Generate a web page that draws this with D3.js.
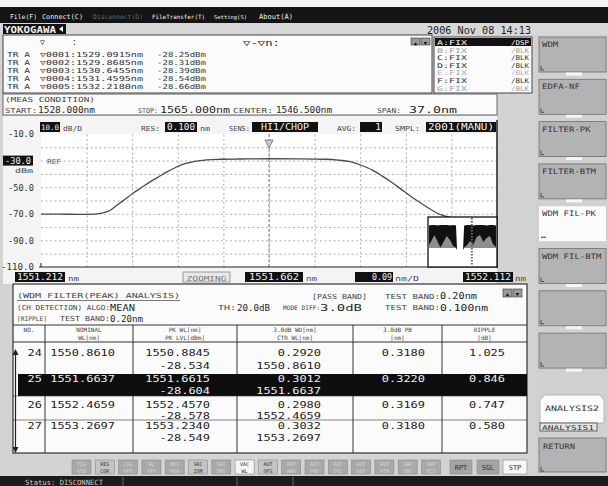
<!DOCTYPE html>
<html><head><meta charset="utf-8">
<script src="https://cdn.jsdelivr.net/npm/d3@7/dist/d3.min.js"></script>
<style>
html,body{margin:0;padding:0;background:#d3d3d3;}
svg{display:block;}
text{font-family:"DejaVu Sans Mono",monospace;}
</style></head><body>
<svg id="c" width="608" height="486"></svg>
<script>
// ---------------- DATA ----------------
const menuItems = ["File(F)","Connect(C)","Disconnect(D)","FileTransfer(T)","Setting(S)","About(A)"];
const dateText = "2006 Nov 08 14:13";
const markerNames = ["▽0001","▽0002","▽0003","▽0004","▽0005"];
const markerWl = ["1529.0915","1529.8685","1530.6455","1531.4595","1532.2180"];
const markerLvl = ["-28.25","-28.31","-28.39","-28.54","-28.66"];
const traceList = ["A:FIX","B:FIX","C:FIX","D:FIX","E:FIX","F:FIX","G:FIX"];
const traceMode = ["/DSP","/BLK","/BLK","/BLK","/BLK","/BLK","/BLK"];
const measStart = 1528.000, measStop = 1565.000, measCenter = 1546.500, measSpan = 37.0;
const settings = {scale:"10.0", res:"0.100", sens:"HI1/CHOP", avg:"1", smpl:"2001(MANU)"};
const yTickLabels = [-10,-50,-70,-90,-110];
const refLevel = -30.0;
const xDomain = [1551.212, 1552.112];
const xDiv = 0.09;
// main trace (wavelength nm, level dBm)
const traceWl = [1551.2120,1551.2495,1551.2890,1551.3186,1551.3344,1551.3482,1551.3620,1551.3778,1551.3936,1551.4113,
  1551.4271,1551.4449,1551.4607,1551.4784,1551.4962,1551.5159,1551.5396,1551.5653,1551.6048,1551.6620,
  1551.7232,1551.7725,1551.7982,1551.8219,1551.8436,1551.8653,1551.8850,1551.9048,1551.9245,1551.9442,
  1551.9600,1551.9758,1551.9916,1552.0034,1552.0192];
const traceDbm = [-70.2,-70.3,-70.4,-70.2,-69.3,-67.5,-63.5,-59.0,-54.5,-50.0,
  -46.0,-42.0,-38.5,-35.0,-32.3,-30.5,-29.4,-29.0,-28.8,-28.6,
  -28.7,-29.0,-29.6,-30.8,-33.5,-37.0,-41.5,-46.5,-52.0,-57.5,
  -61.5,-65.5,-69.0,-71.0,-72.5];
const peakWl = 1551.662;
// overview inset (full span)
const insetWl = [1528.0,1529.6,1531.0,1532.6,1534.3,1536.0,1537.8,1539.6,1541.3,1542.9,1543.5,1546.8,1547.4,1549.0,1550.7,1552.4,1554.3,1556.2,1558.0,1559.8,1561.6,1563.3,1565.0];
const insetTop = [-27,-26,-26,-27,-26,-26,-26,-27,-26,-27,-76,-76,-27,-26,-26,-27,-26,-26,-26,-27,-26,-26,-27];
const insetGray = [-66,-56,-46,-58,-71,-60,-48,-56,-68,-71,-76,-76,-71,-66,-58,-66,-50,-46,-60,-52,-48,-64,-70];
const insetFloor = [-72,-72,-72,-72,-72,-72,-72,-72,-72,-72,-76,-76,-72,-72,-72,-72,-72,-72,-72,-72,-72,-72,-72];
// analysis table
const chNo = [24,25,26,27];
const nominalWl = ["1550.8610","1551.6637","1552.4659","1553.2697"];
const pkWl = ["1550.8845","1551.6615","1552.4570","1553.2340"];
const pkLvl = ["-28.534","-28.604","-28.578","-28.549"];
const wd3 = ["0.2920","0.3012","0.2980","0.3032"];
const ctrWl = ["1550.8610","1551.6637","1552.4659","1553.2697"];
const pb3 = ["0.3180","0.3220","0.3169","0.3180"];
const ripple = ["1.025","0.846","0.747","0.580"];
const selectedRow = 1;
const softKeys = ["WDM","EDFA-NF","FILTER-PK","FILTER-BTM","WDM FIL-PK","WDM FIL-BTM","",""];
const btnLabels = [["TLS","STD"],["RES","COR"],["LVL","OFS"],["WL","OFS"],["NOT","MON"],["SRC","ZOM"],["SRC","ERS"],["VAC","WL"],["AUT","OFS"],["AUT","ANA"],["AUT","PAD"],["AUT","COL"],["AUT","REF"],["AUT","ATN"],["SWP","INT"],["SWP","ECS"]];
const btnState = [0,1,0,0,0,1,0,2,1,0,0,0,0,0,0,0];
const sweepBtns = ["RPT","SGL","STP"];

// ---------------- DRAW ----------------
const svg = d3.select("#c");
const INK="#252525", WHITE="#fbfbfb", KEY="#b3b3b3";
function txt(g,s,x,y,o={}){
  const fs=o.fs||9;
  const e=g.append("text").attr("x",x).attr("y",y).text(s)
    .attr("font-size",fs).attr("fill",o.fill||INK);
  if(o.anchor) e.attr("text-anchor",o.anchor);
  if(o.ff) e.attr("font-family",o.ff);
  if(o.fw) e.attr("font-weight",o.fw);
  if(o.w){
    const L=e.node().getComputedTextLength();
    if(L>o.w) e.attr("font-size",fs*o.w/L);
    e.attr("textLength",o.w).attr("lengthAdjust","spacingAndGlyphs");
  }
  return e;
}
function box(g,x,y,w,h,fill,stroke,sw){
  return g.append("rect").attr("x",x).attr("y",y).attr("width",w).attr("height",h)
    .attr("fill",fill||"none").attr("stroke",stroke||"none").attr("stroke-width",sw||1);
}
function blackVal(g,s,x,y,w,h,o={}){
  box(g,x,y,w,h,"#111");
  txt(g,s,o.right?x+w-1:x+w/2,y+h-2,{fs:o.fs||9.5,fill:"#f2f2f2",anchor:o.right?"end":"middle",w:o.tw});
}

// background
box(svg,0,0,608,486,"#d3d3d3");
box(svg,0,0,608,7,"#f3f3f3");
box(svg,0,7,608,16,"#141414");
const menuX=[10,42,93,152,214,259], menuW=[27,41,50,53,33,34];
menuItems.forEach((m,i)=>txt(svg,m,menuX[i],18.5,{fs:9,ff:"DejaVu Sans",fill:i===2?"#6a6a6a":"#f0f0f0",w:menuW[i]}));
box(svg,0,23,608,12,"#d7d7d7");
// YOKOGAWA logo
box(svg,3,24,63,10,"#111");
txt(svg,"YOKOGAWA",4,32.5,{fs:9,ff:"DejaVu Sans",fw:"bold",fill:"#f5f5f5",w:52});
svg.append("path").attr("d","M59,29 L63,26 L63,32 Z").attr("fill","#f5f5f5");
txt(svg,dateText,427,33.5,{fs:10.5,w:104});

// marker box
box(svg,3,35,429,58,WHITE,"#444");
txt(svg,"▽",40,45,{fs:8});
txt(svg,":",72,45,{fs:8});
txt(svg,"▽-▽n:",243,45.5,{fs:8.5,w:37});
box(svg,411,38,9,7,"#9a9a9a","#333",0.6); box(svg,421,38,9,7,"#9a9a9a","#333",0.6);
txt(svg,"▲",415.5,44.5,{fs:5.5,anchor:"middle",fill:"#111"});
txt(svg,"▼",425.5,44.5,{fs:5.5,anchor:"middle",fill:"#111"});
markerNames.forEach((n,i)=>{
  const yy=56.5+i*8.2;
  txt(svg,"TR A",7,yy,{fs:7,w:23,fill:"#333"});
  txt(svg,n+":",40,yy,{fs:7,w:36,fill:"#333"});
  txt(svg,markerWl[i]+"nm",76,yy,{fs:7,w:67,fill:"#333"});
  txt(svg,markerLvl[i]+"dBm",157,yy,{fs:7,w:49,fill:"#333"});
});
// trace list box
box(svg,434,37,98,56,WHITE,"#444");
const trFill=["#fff","#9c9c9c","#333","#333","#b0b0b0","#333","#a0a0a0"];
traceList.forEach((t,i)=>{
  const yy=45+i*7.6;
  if(i===0) box(svg,435,38,96,8,"#111");
  txt(svg,t,437,yy,{fs:6.5,w:30,fill:trFill[i]});
  txt(svg,traceMode[i],529,yy,{fs:6.5,anchor:"end",w:18,fill:trFill[i]});
});

// meas condition
box(svg,3,94,494,21,WHITE,"#666");
txt(svg,"(MEAS CONDITION)",5,102,{fs:7,w:90,fill:"#444"});
txt(svg,"START:",5,113,{fs:7,w:32,fill:"#444"});
txt(svg,measStart.toFixed(3)+"nm",38,113,{fs:9.5,w:57});
txt(svg,"STOP:",138,113,{fs:7,w:20,fill:"#444"});
txt(svg,measStop.toFixed(3)+"nm",160,113,{fs:9.5,w:70});
txt(svg,"CENTER:",233,113,{fs:7,w:40,fill:"#444"});
txt(svg,measCenter.toFixed(3)+"nm",276,113,{fs:9.5,w:56});
txt(svg,"SPAN:",377,113,{fs:7,w:24,fill:"#444"});
txt(svg,measSpan.toFixed(1)+"nm",409,113,{fs:9.5,w:48});

// plot panel
box(svg,3,116,494,168,"#f4f4f4");
const x=d3.scaleLinear().domain(xDomain).range([41,497]);
const y=d3.scaleLinear().domain([-110,-10]).range([267,134]);
box(svg,41,134,456,133,"#ffffff");
// header row
blackVal(svg,settings.scale,40,122,20,10,{tw:18});
txt(svg,"dB/D",63,131,{fs:7,w:19,fill:"#444"});
txt(svg,"RES:",141,131,{fs:7,w:19,fill:"#444"});
blackVal(svg,settings.res,165,122,32,10,{tw:28});
txt(svg,"nm",200,131,{fs:7,w:10,fill:"#444"});
txt(svg,"SENS:",229,131,{fs:7,w:21,fill:"#444"});
blackVal(svg,settings.sens,252,122,66,10,{tw:48});
txt(svg,"AVG:",337,131,{fs:7,w:19,fill:"#444"});
blackVal(svg,settings.avg,360,122,22,10,{right:true});
txt(svg,"SMPL:",395,131,{fs:7,w:25,fill:"#444"});
blackVal(svg,settings.smpl,426,122,70,10,{tw:66});

// grid
const vTicks=d3.range(1,10).map(i=>xDomain[0]+i*xDiv);
const gx=svg.append("g").attr("transform","translate(0,267)")
  .call(d3.axisBottom(x).tickValues(vTicks).tickSize(-133).tickFormat(""));
gx.select(".domain").remove();
gx.selectAll("line").attr("stroke","#9a9a9a").attr("stroke-dasharray","2,2.5").attr("stroke-width",0.8);
const hTicks=d3.range(-100,-10,10);
const gy=svg.append("g").attr("transform","translate(41,0)")
  .call(d3.axisLeft(y).tickValues(hTicks).tickSize(-456).tickFormat(""));
gy.select(".domain").remove();
gy.selectAll("line").attr("stroke","#9a9a9a").attr("stroke-dasharray","2,2.5").attr("stroke-width",0.8);
// center line
svg.append("line").attr("x1",x(peakWl)).attr("x2",x(peakWl)).attr("y1",134).attr("y2",267)
  .attr("stroke","#777").attr("stroke-dasharray","3,2").attr("stroke-width",0.9);
// y labels
const yl=svg.append("g").attr("transform","translate(34,0)")
  .call(d3.axisLeft(y).tickValues(yTickLabels).tickSize(0).tickPadding(0).tickFormat(d=>d.toFixed(1)));
yl.select(".domain").remove();
yl.selectAll("text").attr("font-family","DejaVu Sans Mono").attr("font-size",9).attr("fill","#333")
  .attr("textLength",d=>d<=-100?33:26).attr("lengthAdjust","spacingAndGlyphs");
// REF
blackVal(svg,refLevel.toFixed(1),3,y(refLevel)-5,30,10,{tw:26});
txt(svg,"dBm",15,y(refLevel)+12,{fs:6.5,w:18,fill:"#444"});
txt(svg,"REF",47,y(refLevel)+3,{fs:7,w:14,fill:"#555"});
// axes frame
svg.append("line").attr("x1",39).attr("x2",497).attr("y1",267).attr("y2",267).attr("stroke","#222").attr("stroke-width",1.2);
svg.append("line").attr("x1",497).attr("x2",497).attr("y1",120).attr("y2",268).attr("stroke","#222").attr("stroke-width",1.5);
svg.append("line").attr("x1",41).attr("x2",41).attr("y1",263).attr("y2",267).attr("stroke","#222");
// trace
const line=d3.line().x(d=>x(d[0])).y(d=>y(d[1])).curve(d3.curveMonotoneX);
svg.append("path").datum(traceWl.map((w,i)=>[w,traceDbm[i]]))
  .attr("d",line).attr("fill","none").attr("stroke","#4a4a4a").attr("stroke-width",1.3);
// peak marker
const px=x(peakWl);
svg.append("path").attr("d",`M${px-4},${140} L${px+4},${140} L${px},${148} Z`).attr("fill","#ccc").attr("stroke","#666").attr("stroke-width",0.8);

// inset overview
const xi=d3.scaleLinear().domain([measStart,measStop]).range([429,496]);
const yi=d3.scaleLinear().domain([-110,-10]).range([267,217]);
box(svg,428,217,69,50,"#ffffff","#111",1.3);
const ins=insetWl.map((w,i)=>({w,t:insetTop[i],g:insetGray[i],f:insetFloor[i]}));
svg.append("path").datum(ins).attr("d",d3.area().x(d=>xi(d.w)).y0(d=>yi(d.f)).y1(d=>yi(d.t)).curve(d3.curveLinear)).attr("fill","#111");
svg.append("path").datum(ins).attr("d",d3.area().x(d=>xi(d.w)).y0(d=>yi(d.f)).y1(d=>yi(d.g)).curve(d3.curveLinear)).attr("fill","#8e8e8e");
svg.append("line").attr("x1",xi(peakWl)).attr("x2",xi(peakWl)).attr("y1",218).attr("y2",266)
  .attr("stroke","#666").attr("stroke-width",2).attr("stroke-dasharray","1.5,1.5");

// x labels row
blackVal(svg,x.domain()[0].toFixed(3),15,272,50,10,{tw:46});
txt(svg,"nm",68,281,{fs:7,w:11,fill:"#444"});
box(svg,183,272,47,10,"#e8e8e8","#888",0.8);
txt(svg,"ZOOMING",206.5,280.5,{fs:7,anchor:"middle",w:40,fill:"#777"});
blackVal(svg,((xDomain[0]+xDomain[1])/2).toFixed(3),245,272,58,10,{tw:50});
txt(svg,"nm",306,281,{fs:7,w:11,fill:"#444"});
blackVal(svg,xDiv.toFixed(2),355,272,38,10,{right:true,tw:20});
txt(svg,"nm/D",395,281,{fs:7,w:24,fill:"#444"});
blackVal(svg,x.domain()[1].toFixed(3),463,272,50,10,{tw:46});
txt(svg,"nm",515,281,{fs:7,w:11,fill:"#444"});

// analysis table
box(svg,13,284,514,169,WHITE,"#333",1.2);
txt(svg,"(WDM FILTER(PEAK) ANALYSIS)",17,298,{fs:7,w:163,fill:"#444"});
svg.append("line").attr("x1",17).attr("x2",180).attr("y1",300.5).attr("y2",300.5).attr("stroke","#444").attr("stroke-width",0.7);
txt(svg,"[PASS BAND]",312,299,{fs:7,w:55,fill:"#444"});
txt(svg,"TEST BAND:",385,299,{fs:7,w:55,fill:"#444"});
txt(svg,"0.20nm",440,299,{fs:9,w:37});
box(svg,503,289,9,8,"#9a9a9a","#333",0.6); box(svg,513,289,9,8,"#9a9a9a","#333",0.6);
txt(svg,"▲",507.5,295.5,{fs:5.5,anchor:"middle",fill:"#111"});
txt(svg,"▼",517.5,295.5,{fs:5.5,anchor:"middle",fill:"#111"});
txt(svg,"(CH DETECTION) ALGO:",17,310,{fs:7,w:93,fill:"#444"});
txt(svg,"MEAN",110,310.5,{fs:9,w:25});
txt(svg,"TH:",218,310,{fs:7,w:18,fill:"#444"});
txt(svg,"20.0dB",237,310.5,{fs:9,w:33});
txt(svg,"MODE DIFF:",283,310,{fs:7,w:37,fill:"#444"});
txt(svg,"3.0dB",320,310.5,{fs:9,w:42});
txt(svg,"TEST BAND:",385,310,{fs:7,w:55,fill:"#444"});
txt(svg,"0.100nm",440,310.5,{fs:9,w:48});
txt(svg,"[RIPPLE]",17,321,{fs:7,w:30,fill:"#444"});
txt(svg,"TEST BAND:",60,321,{fs:7,w:50,fill:"#444"});
txt(svg,"0.20nm",110,321.5,{fs:9,w:33});
// header
const colX=[13,45,133,237,353,442,527];
svg.append("line").attr("x1",13).attr("x2",527).attr("y1",325).attr("y2",325).attr("stroke","#333");
svg.append("line").attr("x1",13).attr("x2",527).attr("y1",342).attr("y2",342).attr("stroke","#333");
colX.slice(1,6).forEach(cx=>svg.append("line").attr("x1",cx).attr("x2",cx).attr("y1",325).attr("y2",453).attr("stroke","#333"));
const hdr=[["NO.",""],["NOMINAL","WL[nm]"],["PK WL[nm]","PK LVL[dBm]"],["3.0dB WD[nm]","CTR WL[nm]"],["3.0dB PB","[nm]"],["RIPPLE","[dB]"]];
hdr.forEach((h,i)=>{
  const cx=(colX[i]+colX[i+1])/2;
  txt(svg,h[0],cx,332,{fs:6,anchor:"middle",fill:"#444"});
  if(h[1]) txt(svg,h[1],cx,339.5,{fs:6,anchor:"middle",fill:"#444"});
});
// rows
const rowTop=[342,374,396,420], rowBot=[374,396,420,453];
const l1=[356,382,407.5,429], l2=[368.5,394,419,441];
chNo.forEach((c,i)=>{
  const sel=i===selectedRow, f=sel?"#f0f0f0":"#222";
  if(sel) box(svg,18,rowTop[i],509,rowBot[i]-rowTop[i],"#0e0e0e");
  const cw=7.2, fs=9.5;
  txt(svg,String(c),42,l1[i],{fs,anchor:"end",fill:f,w:2*cw});
  txt(svg,nominalWl[i],115,l1[i],{fs,anchor:"end",fill:f,w:9*cw});
  txt(svg,pkWl[i],210,l1[i],{fs,anchor:"end",fill:f,w:9*cw});
  txt(svg,pkLvl[i],210,l2[i],{fs,anchor:"end",fill:f,w:7*cw});
  txt(svg,wd3[i],321,l1[i],{fs,anchor:"end",fill:f,w:6*cw});
  txt(svg,ctrWl[i],321,l2[i],{fs,anchor:"end",fill:f,w:9*cw});
  txt(svg,pb3[i],425,l1[i],{fs,anchor:"end",fill:f,w:6*cw});
  txt(svg,ripple[i],505,l1[i],{fs,anchor:"end",fill:f,w:5*cw});
});
[396,420].forEach(yy=>svg.append("line").attr("x1",13).attr("x2",527).attr("y1",yy).attr("y2",yy).attr("stroke","#333").attr("stroke-width",0.6));
// scroll arrow
svg.append("line").attr("x1",15.5).attr("x2",15.5).attr("y1",352).attr("y2",450).attr("stroke","#222").attr("stroke-width",1.2);
svg.append("path").attr("d","M12.5,355 L15.5,349 L18.5,355 Z").attr("fill","#222");
svg.append("path").attr("d","M12.5,447 L15.5,453 L18.5,447 Z").attr("fill","#222");

// function buttons
btnLabels.forEach((b,i)=>{
  const bx=72+i*23.3, st=btnState[i];
  box(svg,bx,460,19,14,st===2?"#f6f6f6":(st===1?"#c4c4c4":"#a9a9a9"),"#8a8a8a",0.6);
  const f=st===0?"#d8d8d8":"#333";
  txt(svg,b[0],bx+9.5,466,{fs:5,anchor:"middle",fill:f});
  txt(svg,b[1],bx+9.5,472.5,{fs:5,anchor:"middle",fill:f});
});
const swX=[450,477,503];
sweepBtns.forEach((s,i)=>{
  box(svg,swX[i],460,i===2?24:22,14,i===2?"#f6f6f6":"#a4a4a4","#8a8a8a",0.6);
  txt(svg,s,swX[i]+(i===2?12:11),470,{fs:7,anchor:"middle",fill:"#333"});
});

// status bar
box(svg,0,476,608,10,"#1b1b1b");
txt(svg,"Status: DISCONNECT",25,485,{fs:8,ff:"DejaVu Sans",fill:"#cfcfcf",w:78});
[123,237,293].forEach(sx=>svg.append("line").attr("x1",sx).attr("x2",sx).attr("y1",477).attr("y2",486).attr("stroke","#666"));

// softkeys
box(svg,535,35,73,441,"#d0d0d0");
softKeys.forEach((k,i)=>{
  const ky=37+i*42.3;
  const sel=(k==="WDM FIL-PK");
  box(svg,539,ky,67,35,sel?"#fbfbfb":KEY,sel?"none":"#6f6f6f",0.8);
  if(k) txt(svg,k,542,ky+10,{fs:7.5,fill:"#333",w:k.length*5.4});
  if(sel){ svg.append("line").attr("x1",541).attr("x2",546).attr("y1",ky+31).attr("y2",ky+31).attr("stroke","#333"); }
  else {
    svg.append("path").attr("d",`M541,${ky+29} L541,${ky+33} L544,${ky+33}`).attr("fill","none").attr("stroke","#333").attr("stroke-width",0.8);
    box(svg,566,ky+35.5,16,3,"#f6f6f6");
  }
});
svg.append("path").attr("d","M540,423 L540,400 L545,395 L600,395 L604,400 L604,423 Z").attr("fill","#fbfbfb").attr("stroke","#999").attr("stroke-width",0.6);
txt(svg,"ANALYSIS2",545,411,{fs:7.5,fill:"#333",w:54});
box(svg,540,423,57,8,"#e4e4e4","#444",0.8);
txt(svg,"ANALYSIS1",542,430,{fs:6.5,fill:"#333",w:52});
box(svg,539,438,67,34,KEY,"#6f6f6f",0.8);
txt(svg,"RETURN",543,449,{fs:7.5,fill:"#333",w:32});
svg.append("path").attr("d","M541,467 L541,471 L544,471").attr("fill","none").attr("stroke","#333").attr("stroke-width",0.8);
</script>
</body></html>
